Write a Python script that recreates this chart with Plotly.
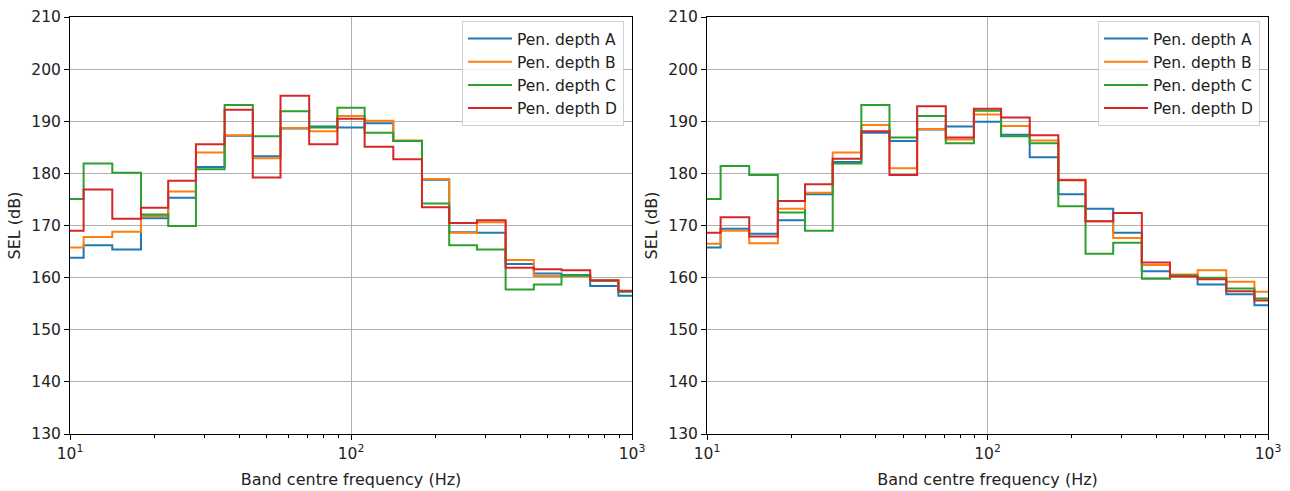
import plotly.graph_objects as go

# 1/3-octave band centre frequencies (Hz)
freqs = [10, 12.5, 16, 20, 25, 31.5, 40, 50, 63, 80, 100, 125, 160, 200, 250, 315, 400, 500, 630, 800, 1000]

series_names = ["Pen. depth A", "Pen. depth B", "Pen. depth C", "Pen. depth D"]
colors = ["#1f77b4", "#ff7f0e", "#2ca02c", "#d62728"]

# Left panel SEL (dB)
left_A = [163.8, 166.2, 165.4, 171.4, 175.3, 181.2, 187.2, 183.3, 188.6, 189.0, 188.8, 189.6, 186.2, 178.8, 168.7, 168.6, 162.6, 160.8, 160.5, 158.4, 156.5]
left_B = [165.8, 167.8, 168.8, 171.8, 176.5, 184.0, 187.3, 182.9, 188.7, 188.1, 191.0, 190.1, 186.3, 178.9, 168.6, 170.6, 163.4, 160.3, 160.3, 159.4, 157.4]
left_C = [175.1, 181.9, 180.1, 172.1, 169.9, 180.8, 193.1, 187.1, 191.9, 188.8, 192.6, 187.8, 186.2, 174.2, 166.2, 165.4, 157.7, 158.7, 160.4, 159.4, 157.3]
left_D = [169.0, 176.9, 171.3, 173.4, 178.6, 185.6, 192.2, 179.2, 194.9, 185.6, 190.5, 185.1, 182.7, 173.5, 170.5, 171.0, 161.9, 161.6, 161.4, 159.5, 157.5]

# Right panel SEL (dB)
right_A = [165.8, 169.4, 168.4, 171.0, 176.0, 182.2, 187.8, 186.2, 188.4, 189.0, 189.9, 187.4, 183.1, 176.0, 173.2, 168.6, 161.2, 160.3, 158.7, 156.8, 154.7]
right_B = [166.5, 169.0, 166.6, 173.2, 176.3, 184.0, 189.3, 181.0, 188.5, 186.5, 191.3, 189.1, 186.3, 178.8, 170.8, 167.6, 162.4, 160.6, 161.4, 159.2, 157.3]
right_C = [175.1, 181.4, 179.7, 172.5, 169.0, 181.9, 193.1, 186.9, 191.0, 185.8, 192.0, 187.1, 185.8, 173.7, 164.6, 166.7, 159.8, 160.4, 160.0, 157.9, 156.0]
right_D = [168.6, 171.6, 167.9, 174.7, 177.9, 182.8, 188.1, 179.7, 192.9, 186.9, 192.4, 190.7, 187.3, 178.7, 170.8, 172.4, 162.9, 160.2, 159.7, 157.4, 155.6]

left_data = [left_A, left_B, left_C, left_D]
right_data = [right_A, right_B, right_C, right_D]

x_tickvals = [10, 100, 1000]
x_ticktext = ["10<sup>1</sup>", "10<sup>2</sup>", "10<sup>3</sup>"]
minor_vals = [v * d for d in (10, 100) for v in range(2, 10)]
y_tickvals = list(range(130, 211, 10))

W, H = 1290, 491
font_family = "DejaVu Sans"
FS = 15.5

fig = go.Figure()
for i, name in enumerate(series_names):
    fig.add_trace(go.Scatter(
        x=freqs, y=left_data[i], mode="lines", name=name,
        line=dict(color=colors[i], width=2, shape="hvh"),
        xaxis="x", yaxis="y", legend="legend", legendgroup=f"L{i}",
    ))
for i, name in enumerate(series_names):
    fig.add_trace(go.Scatter(
        x=freqs, y=right_data[i], mode="lines", name=name,
        line=dict(color=colors[i], width=2, shape="hvh"),
        xaxis="x2", yaxis="y2", legend="legend2", legendgroup=f"R{i}",
    ))

def xaxis_cfg(dom, anchor):
    return dict(
        type="log", domain=dom, anchor=anchor, range=[1, 3],
        tickvals=x_tickvals, ticktext=x_ticktext,
        ticks="outside", ticklen=5, tickwidth=1, tickcolor="black",
        showline=True, linecolor="black", linewidth=1, mirror=True,
        showgrid=True, gridcolor="#b0b0b0", gridwidth=1,
        zeroline=False,
        minor=dict(tickvals=minor_vals, ticks="outside", ticklen=3, tickcolor="black", showgrid=False),
        title=dict(text="Band centre frequency (Hz)", font=dict(size=FS + 0.5, family=font_family, color="#222222"), standoff=12),
        tickfont=dict(size=FS, family=font_family, color="#222222"),
    )

def yaxis_cfg(anchor):
    return dict(
        domain=[1 - 434 / H, 1 - 17 / H], anchor=anchor, range=[130, 210],
        tickvals=y_tickvals,
        ticks="outside", ticklen=5, tickwidth=1, tickcolor="black",
        showline=True, linecolor="black", linewidth=1, mirror=True,
        showgrid=True, gridcolor="#b0b0b0", gridwidth=1,
        zeroline=False,
        title=dict(text="SEL (dB)", font=dict(size=FS + 0.5, family=font_family, color="#222222"), standoff=6),
        tickfont=dict(size=FS, family=font_family, color="#222222"),
    )

legend_common = dict(
    bgcolor="rgba(255,255,255,0.8)", bordercolor="#d0d0d0", borderwidth=1,
    font=dict(size=FS, family=font_family, color="#222222"),
    xanchor="right", yanchor="top", tracegroupgap=0, itemwidth=44,
)

fig.update_layout(
    width=W, height=H,
    paper_bgcolor="white", plot_bgcolor="white",
    margin=dict(l=0, r=0, t=0, b=0, autoexpand=False),
    font=dict(family=font_family, size=FS, color="#222222"),
    xaxis=xaxis_cfg([70 / W, 632 / W], "y"),
    yaxis=yaxis_cfg("x"),
    xaxis2=xaxis_cfg([707 / W, 1268 / W], "y2"),
    yaxis2=yaxis_cfg("x2"),
    legend=dict(x=624 / W, y=1 - 21 / H, **legend_common),
    legend2=dict(x=1260 / W, y=1 - 21 / H, **legend_common),
    showlegend=True,
)

fig.write_html(
    "out.html",
    config={"displayModeBar": False},
    post_script="document.body.style.margin='0';document.documentElement.style.overflow='hidden';",
)
